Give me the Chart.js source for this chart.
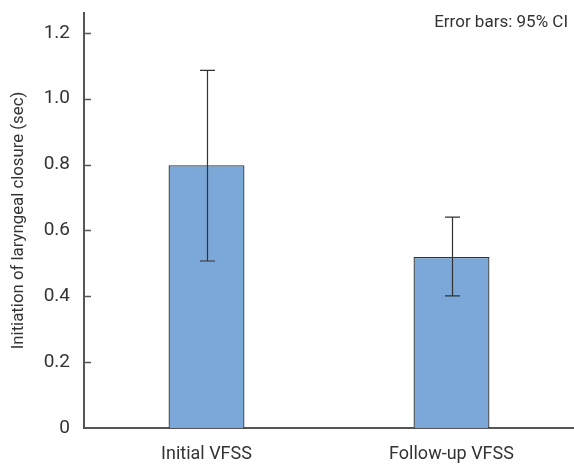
<!DOCTYPE html>
<html><head><meta charset="utf-8">
<script src="https://cdn.jsdelivr.net/npm/chart.js@4/dist/chart.umd.min.js"></script>
<style>html,body{margin:0;padding:0;background:#fff}#wrap{width:574px;height:465px;position:relative}</style>
</head><body><div id="wrap"><canvas id="c" width="574" height="465"></canvas></div>
<script>
const categories = ["Initial VFSS", "Follow-up VFSS"];
const meanValues = [0.798, 0.519];
const ciLower = [0.507, 0.401];
const ciUpper = [1.086, 0.640];
const yTickValues = [0, 0.2, 0.4, 0.6, 0.8, 1.0, 1.2];
const yAxisTitle = "Initiation of laryngeal closure (sec)";
const noteText = "Error bars: 95% CI";

const FONT = "'Liberation Sans Narrow', 'Roboto', sans-serif";

const errorBars = {
  id: 'errorBars',
  afterDatasetsDraw(chart) {
    const ctx = chart.ctx, y = chart.scales.y;
    const meta = chart.getDatasetMeta(0);
    ctx.save();
    ctx.strokeStyle = '#333';
    ctx.lineWidth = 1.2;
    meta.data.forEach((bar, i) => {
      const x = Math.round(bar.x) + 0.5;
      const yl = y.getPixelForValue(ciLower[i]);
      const yu = y.getPixelForValue(ciUpper[i]);
      ctx.beginPath();
      ctx.moveTo(x, yl); ctx.lineTo(x, yu);
      ctx.moveTo(x - 7.5, yu); ctx.lineTo(x + 7.5, yu);
      ctx.moveTo(x - 7.5, yl); ctx.lineTo(x + 7.5, yl);
      ctx.stroke();
    });
    ctx.restore();
  }
};

const innerTicks = {
  id: 'innerTicks',
  afterDraw(chart) {
    const ctx = chart.ctx, y = chart.scales.y, left = chart.chartArea.left;
    ctx.save();
    ctx.strokeStyle = '#555';
    ctx.lineWidth = 1.5;
    yTickValues.forEach(v => {
      if (v === 0) return;
      const py = Math.round(y.getPixelForValue(v)) + 0.5;
      ctx.beginPath(); ctx.moveTo(left, py); ctx.lineTo(left + 7, py); ctx.stroke();
    });
    ctx.fillStyle = '#333';
    ctx.font = "17px " + FONT;
    ctx.textAlign = 'right';
    ctx.textBaseline = 'middle';
    ctx.fillText(noteText, 568, 23);
    ctx.restore();
  }
};

new Chart(document.getElementById('c'), {
  type: 'bar',
  data: {
    labels: categories,
    datasets: [{
      data: meanValues,
      backgroundColor: '#7ba7d9',
      borderColor: '#333',
      borderWidth: 1.3,
      categoryPercentage: 1,
      barPercentage: 0.31
    }]
  },
  options: {
    responsive: false,
    animation: false,
    devicePixelRatio: 1,
    layout: { padding: { top: 13, right: 0, left: 0, bottom: 0 } },
    plugins: { legend: { display: false }, tooltip: { enabled: false } },
    scales: {
      x: {
        grid: { display: false, drawTicks: false },
        border: { color: '#555', width: 2 },
        ticks: { color: '#333', font: { family: FONT, size: 18 }, padding: 16 },
        afterFit(s) { s.height = 37; s.paddingLeft = 0; s.paddingRight = 0; }
      },
      y: {
        min: 0, max: 1.26,
        grid: { display: false, drawTicks: false },
        border: { color: '#555', width: 2 },
        afterBuildTicks(s) { s.ticks = yTickValues.map(v => ({ value: v })); },
        ticks: {
          color: '#333', font: { family: FONT, size: 19 }, padding: 14,
          callback: v => v === 0 ? '0' : v.toFixed(1)
        },
        title: { display: true, text: yAxisTitle, color: '#333', font: { family: FONT, size: 16.8 }, padding: { top: 9, bottom: 0 } },
        afterFit(s) { s.width = 84; s.paddingTop = 0; s.paddingBottom = 0; }
      }
    }
  },
  plugins: [errorBars, innerTicks]
});
</script>
</body></html>
